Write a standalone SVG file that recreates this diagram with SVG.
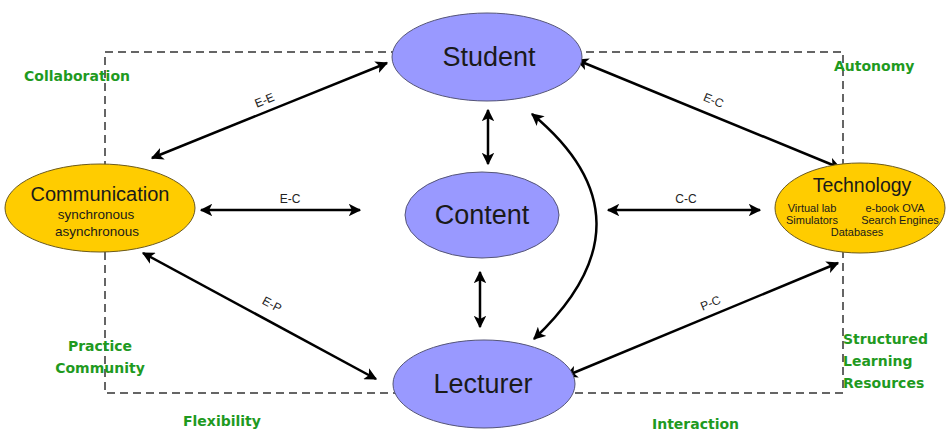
<svg xmlns="http://www.w3.org/2000/svg" width="949" height="433" viewBox="0 0 949 433">
<style>
.blue{fill:#9999ff;stroke:#555577;stroke-width:1}
.yellow{fill:#ffcc00;stroke:#6b5a1e;stroke-width:1}
.big{font-family:"URW Gothic","Liberation Sans",sans-serif;fill:#1a1a1a;text-anchor:middle}
.conn{stroke:#000;stroke-width:2.5;fill:none;marker-start:url(#ah);marker-end:url(#ah)}
.lbl{font-family:"Liberation Sans",Arial,sans-serif;font-size:12px;fill:#222;text-anchor:middle}
.green{font-family:"DejaVu Sans",Verdana,sans-serif;font-size:14px;font-weight:bold;fill:#1f9a1f}
</style>
<defs>
<marker id="ah" viewBox="0 0 10 10" refX="9" refY="5" markerWidth="5" markerHeight="5" orient="auto-start-reverse" markerUnits="strokeWidth">
<path d="M0,0 L10,5 L0,10 L2.5,5 z" fill="#000"/>
</marker>
</defs>
<rect x="105" y="52" width="738" height="341" fill="none" stroke="#333" stroke-width="1.5" stroke-dasharray="8,5"/>
<g id="connectors">
<line class="conn" x1="152" y1="158" x2="387" y2="63"/>
<line class="conn" x1="577" y1="60" x2="840" y2="168"/>
<line class="conn" x1="488" y1="110" x2="488" y2="164"/>
<line class="conn" x1="480" y1="272" x2="480" y2="327"/>
<line class="conn" x1="201" y1="210" x2="360" y2="210"/>
<line class="conn" x1="608" y1="210" x2="760" y2="210"/>
<line class="conn" x1="143" y1="253" x2="376" y2="379"/>
<line class="conn" x1="566" y1="376" x2="838" y2="263"/>
<path class="conn" d="M532,114 Q660,220 534,339"/>
<text class="lbl" transform="translate(266,104) rotate(-22)">E-E</text>
<text class="lbl" transform="translate(712,104) rotate(22)">E-C</text>
<text class="lbl" x="290" y="203">E-C</text>
<text class="lbl" x="686" y="203">C-C</text>
<text class="lbl" transform="translate(270,308) rotate(28)">E-P</text>
<text class="lbl" transform="translate(712,307) rotate(-22)">P-C</text>
</g>
<g id="student"><ellipse class="blue" cx="487" cy="57" rx="95" ry="44"/><text class="big" x="489" y="66" font-size="27">Student</text></g>
<g id="content"><ellipse class="blue" cx="482" cy="215" rx="77" ry="43"/><text class="big" x="482" y="224" font-size="27">Content</text></g>
<g id="lecturer"><ellipse class="blue" cx="484" cy="384" rx="91" ry="44"/><text class="big" x="483" y="393" font-size="27">Lecturer</text></g>
<g id="communication"><ellipse class="yellow" cx="100" cy="208" rx="95" ry="44"/>
<text class="big" x="100" y="201" font-size="20">Communication</text>
<text class="big" x="96" y="219" font-size="13.5">synchronous</text>
<text class="big" x="97" y="236" font-size="13.5">asynchronous</text></g>
<g id="technology"><ellipse class="yellow" cx="860" cy="208" rx="85" ry="45"/>
<text class="big" x="862" y="192" font-size="19.5">Technology</text>
<text class="big" x="812" y="212" font-size="11">Virtual lab</text>
<text class="big" x="895" y="212" font-size="11">e-book OVA</text>
<text class="big" x="812" y="224" font-size="11">Simulators</text>
<text class="big" x="900" y="224" font-size="11">Search Engines</text>
<text class="big" x="857" y="236" font-size="11">Databases</text></g>
<g id="labels">
<text class="green" x="24" y="81">Collaboration</text>
<text class="green" x="834" y="71">Autonomy</text>
<text class="green" x="100" y="351" text-anchor="middle">Practice</text>
<text class="green" x="100" y="373" text-anchor="middle">Community</text>
<text class="green" x="843" y="344">Structured</text>
<text class="green" x="843" y="366">Learning</text>
<text class="green" x="843" y="388">Resources</text>
<text class="green" x="183" y="426">Flexibility</text>
<text class="green" x="652" y="429">Interaction</text>
</g>
</svg>
